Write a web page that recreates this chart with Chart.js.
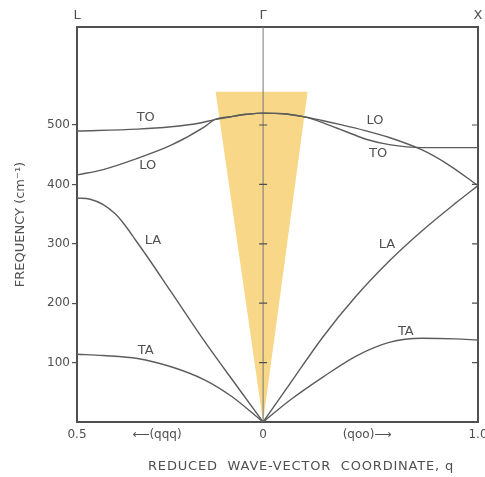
<html>
<head>
<meta charset="utf-8" />
<title>Phonon dispersion</title>
<script src="https://cdn.jsdelivr.net/npm/chart.js"></script>
<style>
  body { margin: 0; background: white; }
  #wrap { width: 485px; height: 477px; }
</style>
</head>
<body>
<div id="wrap"><canvas id="myChart" width="485" height="477"></canvas></div>
<script>
// reduced wave-vector: L side plotted negative (|q| of (0.5,0.5,0.5) = 0.866), X side positive
const qL = -0.866, qX = 1.0;
const fMax = 665;

// branches, [q, frequency cm-1]
const TO = [[-0.866,490],[-0.584,493],[-0.428,497],[-0.3,503],[-0.226,509],[-0.15,514],
            [-0.075,518],[0,520],[0.095,519],[0.188,514],[0.27,505],[0.356,493],[0.42,484],
            [0.479,476],[0.587,467],[0.74,462],[1.0,462]];
const LO = [[-0.866,416],[-0.744,425],[-0.584,444],[-0.428,466],[-0.273,497],[-0.226,509],
            [-0.15,514],[-0.075,518],[0,520],[0.095,519],[0.188,514],[0.27,508],[0.356,501],
            [0.47,491],[0.587,479],[0.74,458],[0.863,433],[1.0,398]];
const LA_left = [[-0.866,377],[-0.805,375],[-0.744,366],[-0.687,350],[-0.64,330],[-0.593,306],
                 [-0.546,282],[-0.428,219],[-0.273,136],[-0.113,56],[0,0]];
const LA_right = [[0,0],[0.126,65],[0.28,144],[0.433,212],[0.587,271],[0.74,322],
                  [0.894,368],[1.0,398]];
const TA_left = [[-0.866,114],[-0.744,112],[-0.584,107],[-0.428,93],[-0.273,71],[-0.146,43],[0,0]];
const TA_right = [[0,0],[0.126,37],[0.28,76],[0.433,111],[0.587,134],[0.74,141],[0.894,140],[1.0,138]];

// highlighted wedge around gamma
const wedge = [[-0.221,556],[0.207,556],[0,0],[-0.221,556]];

// axis ticks
const yTicks = [100,200,300,400,500];
const xTickVals = [-0.866,-0.494,0,0.484,1.0];
const xTickText = ['0.5','\u27F5(qqq)','0','(qoo)\u27F6','1.0'];
const topTickVals = [-0.866,0,1.0];
const topTickText = ['L','\u0393','X'];

// branch labels [text, q, f]
const branchLabels = [
  ['TO',-0.546,512],['LO',-0.537,431],['LA',-0.513,306],['TA',-0.546,121],
  ['LO',0.521,507],['TO',0.535,451],['LA',0.576,298],['TA',0.664,152]
];

const ink = '#505050';
const curve = '#5c5c5c';
const font = 'DejaVu Sans';

function pts(a){ return a.map(p => ({x:p[0], y:p[1]})); }
function branch(a){
  return { data: pts(a), borderColor: curve, borderWidth: 1.4, pointRadius: 0,
           cubicInterpolationMode: 'monotone', fill: false };
}

const extras = {
  id: 'extras',
  afterDatasetsDraw(chart){
    const ctx = chart.ctx, x = chart.scales.x, y = chart.scales.y;
    ctx.save();
    ctx.strokeStyle = ink;
    ctx.lineWidth = 1.2;
    const g = x.getPixelForValue(0), r = x.getPixelForValue(qX);
    yTicks.forEach(v => {
      const py = y.getPixelForValue(v);
      ctx.beginPath();
      ctx.moveTo(g-4, py); ctx.lineTo(g+4, py);
      ctx.moveTo(r-6, py); ctx.lineTo(r, py);
      ctx.stroke();
    });
    ctx.fillStyle = ink;
    ctx.font = '13px "' + font + '"';
    ctx.textAlign = 'center';
    ctx.textBaseline = 'middle';
    branchLabels.forEach(l => {
      ctx.fillText(l[0], x.getPixelForValue(l[1]), y.getPixelForValue(l[2]));
    });
    ctx.letterSpacing = '0.8px';
    ctx.font = '13px "' + font + '"';
    ctx.fillText('REDUCED  WAVE-VECTOR  COORDINATE, q', 301, 467);
    ctx.restore();
  }
};

const ctx = document.getElementById('myChart').getContext('2d');
const myChart = new Chart(ctx, {
  type: 'line',
  data: {
    datasets: [
      branch(TO), branch(LO),
      branch(LA_left), branch(LA_right),
      branch(TA_left), branch(TA_right),
      { data: [{x:0,y:0},{x:0,y:fMax}], borderColor: '#777', borderWidth: 1, pointRadius: 0 },
      { data: pts(wedge), borderWidth: 0, borderColor: 'rgba(0,0,0,0)', pointRadius: 0,
        backgroundColor: '#F8D888', fill: 'shape', tension: 0 }
    ]
  },
  options: {
    responsive: false,
    animation: false,
    events: [],
    layout: { padding: 0 },
    plugins: { legend: { display: false }, tooltip: { enabled: false } },
    scales: {
      x: {
        type: 'linear', position: 'bottom', min: qL, max: qX,
        grid: { display: false, drawTicks: false },
        border: { display: true, color: ink, width: 2 },
        afterBuildTicks: s => { s.ticks = xTickVals.map(v => ({value: v})); },
        ticks: { autoSkip: false, maxRotation: 0, padding: 6, color: ink,
                 font: { family: font, size: 12 },
                 callback: (v, i) => xTickText[i] },
        afterFit: s => { s.height = 55; s.paddingLeft = 0; s.paddingRight = 0; }
      },
      x2: {
        type: 'linear', position: 'top', min: qL, max: qX,
        grid: { display: false, drawTicks: false },
        border: { display: true, color: ink, width: 2 },
        afterBuildTicks: s => { s.ticks = topTickVals.map(v => ({value: v})); },
        ticks: { autoSkip: false, maxRotation: 0, padding: 4, color: ink,
                 font: { family: font, size: 13 },
                 callback: (v, i) => topTickText[i] },
        afterFit: s => { s.height = 27; s.paddingLeft = 0; s.paddingRight = 0; }
      },
      y: {
        type: 'linear', position: 'left', min: 0, max: fMax,
        grid: { display: true, drawOnChartArea: false, tickLength: 5, color: ink, lineWidth: 1.2 },
        border: { display: true, color: ink, width: 2 },
        afterBuildTicks: s => { s.ticks = yTicks.map(v => ({value: v})); },
        ticks: { padding: 2, color: ink, font: { family: font, size: 12 } },
        title: { display: true, text: 'FREQUENCY (cm\u207B\u00B9)', color: ink,
                 font: { family: font, size: 13 }, padding: { top: 13, bottom: 0 } },
        afterFit: s => { s.width = 77; s.paddingTop = 0; s.paddingBottom = 0; }
      },
      y2: {
        type: 'linear', position: 'right', min: 0, max: fMax,
        grid: { display: false, drawTicks: false },
        border: { display: true, color: ink, width: 2 },
        ticks: { display: false },
        afterFit: s => { s.width = 7; }
      }
    }
  },
  plugins: [extras]
});
</script>
</body>
</html>
